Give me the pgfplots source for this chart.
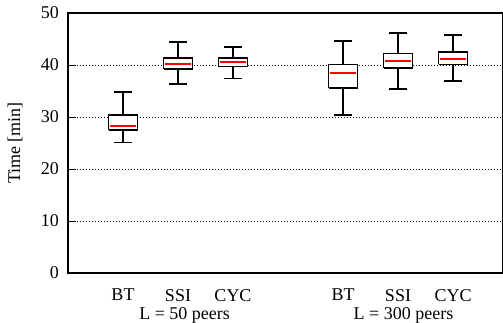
\documentclass[border=0pt]{standalone}
\usepackage{pgfplots}
\pgfplotsset{compat=1.18}
\usepackage{fontspec}
\setmainfont{Liberation Serif}
% #1 position, #2 lower whisker, #3 lower quartile, #4 median, #5 upper quartile, #6 upper whisker
\newcommand\bx[6]{%
 \addplot[black, line width=1.8pt] coordinates {(#1,#2) (#1,#3)};
 \addplot[black, line width=1.8pt] coordinates {(#1,#5) (#1,#6)};
 \addplot[black, line width=1.8pt] coordinates {(#1-0.1725,#2) (#1+0.1725,#2)};
 \addplot[black, line width=1.8pt] coordinates {(#1-0.1725,#6) (#1+0.1725,#6)};
 \addplot[black, fill=white, line width=1.8pt, line cap=square, line join=miter] coordinates {(#1-0.2635,#3) (#1+0.2635,#3) (#1+0.2635,#5) (#1-0.2635,#5) (#1-0.2635,#3)};
 \addplot[red, line width=2pt] coordinates {(#1-0.24,#4) (#1+0.24,#4)};
}
\begin{document}
\fontsize{18}{21}\selectfont
\begin{tikzpicture}
\begin{axis}[
  at={(0,0)}, anchor=origin,
  scale only axis,
  width=435pt, height=260pt,
  xmin=0, xmax=7.909, ymin=0, ymax=50,
  ytick={0,10,20,30,40,50},
  xtick={1,2,3,5,6,7},
  xticklabels={BT,SSI,CYC,BT,SSI,CYC},
  ymajorgrids,
  grid style={black, line width=0.7pt, dash pattern=on 0.8pt off 2.2pt},
  axis line style={line width=1.2pt},
  tick align=inside,
  ytick pos=left,
  major tick length=8pt,
  major tick style={black, line width=1pt},
  x tick style={draw=none},
  /pgf/number format/assume math mode=true,
  tick label style={font=\fontsize{18}{21}\selectfont},
  xticklabel style={yshift=-10pt},
  yticklabel style={xshift=-3pt},
  ylabel={Time [min]},
  ylabel style={at={([xshift=-53pt]axis description cs:0,0.5)}, anchor=center, font=\fontsize{18}{21}\selectfont},
  clip=false,
]
\bx{1}{25.1}{27.5}{28.3}{30.4}{34.8}
\bx{2}{36.3}{39.3}{40.2}{41.3}{44.4}
\bx{3}{37.4}{39.7}{40.5}{41.3}{43.5}
\bx{5}{30.4}{35.6}{38.4}{40.1}{44.6}
\bx{6}{35.4}{39.4}{40.8}{42.2}{46.2}
\bx{7}{36.9}{40.1}{41.2}{42.5}{45.8}
\node[font=\fontsize{18}{21}\selectfont] at (axis cs:2.12,0) [yshift=-42pt] {L = 50 peers};
\node[font=\fontsize{18}{21}\selectfont] at (axis cs:6.1,0) [yshift=-42pt] {L = 300 peers};
\end{axis}
\pgfresetboundingbox
\path[use as bounding box] (-68pt,-49pt) rectangle (435pt,273pt);
\end{tikzpicture}
\end{document}
